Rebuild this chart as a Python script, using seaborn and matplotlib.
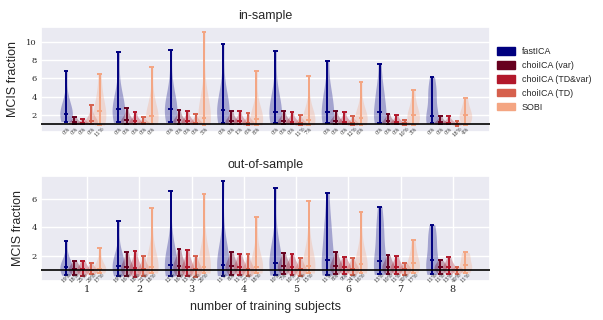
import matplotlib
matplotlib.use('Agg')
import matplotlib.pyplot as plt
import matplotlib.patches as mpatches
import pandas as pd
import seaborn as sns

methods = ['fastICA', 'choiICA (var)', 'choiICA (TD&var)', 'choiICA (TD)', 'SOBI']
colors = ['#00007f', '#67001f', '#b2182b', '#d6604d', '#f4a582']
n_subjects = [1, 2, 3, 4, 5, 6, 7, 8]

# in-sample MCIS fractions (min .. median .. max)
ins_fastica = [
    [1.28, 1.55, 1.80, 2.00, 2.15, 2.45, 2.90, 3.80, 6.84],
    [1.20, 1.60, 1.95, 2.30, 2.63, 3.00, 3.60, 4.90, 8.90],
    [1.20, 1.60, 2.00, 2.40, 2.70, 3.10, 3.80, 5.20, 9.06],
    [1.10, 1.50, 1.90, 2.20, 2.56, 3.00, 3.70, 5.30, 9.70],
    [1.15, 1.50, 1.80, 2.10, 2.35, 2.90, 3.80, 5.00, 8.95],
    [1.10, 1.40, 1.70, 2.00, 2.37, 3.60, 4.30, 4.80, 7.90],
    [1.10, 1.40, 1.70, 2.00, 2.35, 3.80, 4.40, 5.00, 7.60],
    [1.10, 1.30, 1.50, 1.70, 1.94, 3.80, 4.40, 4.90, 6.15],
]
ins_var = [
    [1.00, 1.05, 1.10, 1.15, 1.22, 1.30, 1.40, 1.55, 1.76],
    [1.00, 1.10, 1.20, 1.30, 1.40, 1.55, 1.75, 2.10, 2.74],
    [1.00, 1.10, 1.20, 1.30, 1.40, 1.50, 1.70, 2.00, 2.56],
    [1.00, 1.10, 1.18, 1.27, 1.35, 1.50, 1.70, 2.00, 2.45],
    [1.00, 1.08, 1.17, 1.25, 1.35, 1.50, 1.65, 1.95, 2.45],
    [1.00, 1.08, 1.15, 1.25, 1.35, 1.45, 1.60, 1.90, 2.45],
    [1.00, 1.05, 1.12, 1.20, 1.30, 1.40, 1.55, 1.80, 2.15],
    [1.00, 1.05, 1.10, 1.15, 1.20, 1.30, 1.40, 1.60, 1.87],
]
ins_tdvar = [
    [1.00, 1.03, 1.07, 1.10, 1.15, 1.20, 1.30, 1.42, 1.60],
    [1.00, 1.07, 1.14, 1.20, 1.30, 1.40, 1.55, 1.85, 2.30],
    [1.00, 1.07, 1.15, 1.22, 1.30, 1.42, 1.60, 1.90, 2.45],
    [0.98, 1.05, 1.12, 1.20, 1.30, 1.42, 1.60, 1.90, 2.45],
    [1.00, 1.06, 1.12, 1.20, 1.28, 1.40, 1.55, 1.85, 2.30],
    [1.00, 1.06, 1.12, 1.20, 1.28, 1.40, 1.55, 1.85, 2.30],
    [1.00, 1.05, 1.10, 1.16, 1.22, 1.32, 1.45, 1.65, 2.00],
    [1.00, 1.04, 1.08, 1.13, 1.18, 1.27, 1.38, 1.55, 1.87],
]
ins_td = [
    [1.00, 1.05, 1.12, 1.20, 1.30, 1.45, 1.70, 2.20, 3.10],
    [1.00, 1.03, 1.07, 1.10, 1.15, 1.22, 1.32, 1.48, 1.76],
    [1.00, 1.04, 1.08, 1.12, 1.18, 1.28, 1.42, 1.65, 2.10],
    [0.90, 1.00, 1.05, 1.10, 1.15, 1.25, 1.40, 1.70, 2.20],
    [0.88, 0.98, 1.03, 1.08, 1.12, 1.20, 1.35, 1.60, 2.00],
    [0.88, 0.97, 1.02, 1.06, 1.10, 1.18, 1.30, 1.50, 1.87],
    [0.90, 0.98, 1.02, 1.05, 1.08, 1.13, 1.20, 1.32, 1.50],
    [0.85, 0.95, 1.00, 1.03, 1.05, 1.08, 1.12, 1.20, 1.33],
]
ins_sobi = [
    [0.90, 1.10, 1.50, 1.90, 2.40, 2.90, 3.50, 4.60, 6.50],
    [1.00, 1.20, 1.40, 1.60, 1.85, 2.20, 2.80, 4.00, 7.20],
    [0.95, 1.15, 1.35, 1.50, 1.72, 2.00, 2.60, 4.20, 11.10],
    [0.92, 1.10, 1.30, 1.45, 1.60, 1.85, 2.30, 3.30, 6.80],
    [0.93, 1.10, 1.25, 1.38, 1.50, 1.75, 2.20, 3.20, 6.20],
    [0.93, 1.15, 1.35, 1.50, 1.70, 1.95, 2.40, 3.30, 5.60],
    [0.95, 1.25, 1.50, 1.75, 2.00, 2.30, 2.80, 3.50, 4.70],
    [0.95, 1.30, 1.55, 1.80, 2.00, 2.25, 2.60, 3.10, 3.80],
]

# out-of-sample MCIS fractions
oos_fastica = [
    [0.64, 0.85, 1.00, 1.10, 1.22, 1.35, 1.55, 1.90, 3.06],
    [0.60, 0.85, 1.00, 1.15, 1.30, 1.50, 1.75, 2.30, 4.48],
    [0.60, 0.90, 1.05, 1.20, 1.35, 1.60, 2.00, 3.00, 6.55],
    [0.62, 0.90, 1.05, 1.20, 1.35, 1.60, 2.00, 3.10, 7.22],
    [0.65, 0.95, 1.10, 1.30, 1.50, 1.80, 2.30, 3.30, 6.76],
    [0.65, 0.95, 1.15, 1.40, 1.68, 3.00, 3.80, 4.30, 6.39],
    [0.70, 1.00, 1.20, 1.40, 1.66, 3.00, 3.70, 4.20, 5.45],
    [0.70, 1.00, 1.20, 1.40, 1.68, 2.60, 3.10, 3.50, 4.18],
]
oos_var = [
    [0.65, 0.85, 0.95, 1.03, 1.10, 1.18, 1.28, 1.42, 1.66],
    [0.60, 0.85, 0.98, 1.10, 1.20, 1.32, 1.50, 1.80, 2.27],
    [0.62, 0.90, 1.05, 1.18, 1.30, 1.45, 1.65, 1.95, 2.50],
    [0.68, 0.95, 1.08, 1.20, 1.30, 1.42, 1.60, 1.85, 2.29],
    [0.70, 0.97, 1.10, 1.20, 1.30, 1.42, 1.58, 1.82, 2.22],
    [0.70, 0.97, 1.10, 1.20, 1.30, 1.42, 1.58, 1.82, 2.24],
    [0.70, 0.95, 1.07, 1.16, 1.25, 1.36, 1.50, 1.72, 2.06],
    [0.72, 0.93, 1.03, 1.12, 1.20, 1.28, 1.38, 1.50, 1.68],
]
oos_tdvar = [
    [0.60, 0.80, 0.90, 0.98, 1.05, 1.14, 1.25, 1.40, 1.66],
    [0.55, 0.80, 0.95, 1.05, 1.15, 1.28, 1.45, 1.75, 2.31],
    [0.60, 0.85, 1.00, 1.10, 1.20, 1.33, 1.52, 1.85, 2.43],
    [0.65, 0.90, 1.03, 1.15, 1.25, 1.36, 1.52, 1.75, 2.15],
    [0.68, 0.92, 1.05, 1.15, 1.25, 1.36, 1.50, 1.72, 2.13],
    [0.70, 0.93, 1.05, 1.15, 1.25, 1.34, 1.45, 1.62, 1.94],
    [0.70, 0.92, 1.03, 1.12, 1.20, 1.30, 1.42, 1.60, 1.96],
    [0.72, 0.92, 1.03, 1.12, 1.20, 1.30, 1.42, 1.60, 1.90],
]
oos_td = [
    [0.70, 0.82, 0.90, 0.96, 1.00, 1.05, 1.12, 1.25, 1.47],
    [0.60, 0.80, 0.90, 0.98, 1.05, 1.14, 1.28, 1.50, 1.96],
    [0.55, 0.78, 0.88, 0.97, 1.05, 1.15, 1.30, 1.55, 2.00],
    [0.60, 0.80, 0.90, 0.98, 1.05, 1.15, 1.30, 1.58, 2.15],
    [0.60, 0.80, 0.90, 0.98, 1.05, 1.14, 1.28, 1.48, 1.85],
    [0.65, 0.85, 0.95, 1.03, 1.10, 1.18, 1.30, 1.50, 1.85],
    [0.65, 0.83, 0.92, 0.99, 1.05, 1.12, 1.20, 1.32, 1.52],
    [0.70, 0.82, 0.90, 0.96, 1.00, 1.04, 1.08, 1.14, 1.22],
]
oos_sobi = [
    [0.80, 0.92, 1.00, 1.05, 1.10, 1.20, 1.40, 1.80, 2.55],
    [0.80, 0.95, 1.05, 1.12, 1.20, 1.40, 1.80, 2.80, 5.38],
    [0.80, 0.95, 1.05, 1.12, 1.20, 1.40, 1.85, 3.00, 6.32],
    [0.80, 0.95, 1.05, 1.15, 1.25, 1.45, 1.85, 2.80, 4.73],
    [0.80, 0.97, 1.08, 1.18, 1.30, 1.50, 1.90, 3.00, 5.87],
    [0.80, 1.00, 1.12, 1.25, 1.40, 1.60, 2.00, 2.90, 5.10],
    [0.80, 1.00, 1.15, 1.30, 1.50, 1.70, 2.00, 2.50, 3.13],
    [0.80, 1.00, 1.15, 1.25, 1.35, 1.60, 1.90, 2.10, 2.24],
]

# share of subjects below 1, as printed under each violin
ins_pct = [
    ['0%'] * 8,
    ['0%'] * 8,
    ['0%', '0%', '0%', '1%', '0%', '0%', '0%', '0%'],
    ['0%', '0%', '0%', '6%', '11%', '12%', '10%', '18%'],
    ['11%', '0%', '5%', '8%', '7%', '6%', '3%', '4%'],
]
oos_pct = [
    ['19%', '19%', '12%', '11%', '10%', '11%', '13%', '11%'],
    ['18%', '16%', '16%', '8%', '7%', '8%', '10%', '11%'],
    ['25%', '18%', '13%', '11%', '10%', '9%', '11%', '13%'],
    ['29%', '22%', '34%', '27%', '27%', '24%', '30%', '40%'],
    ['17%', '18%', '20%', '18%', '15%', '16%', '17%', '11%'],
]


def build(panel):
    rows = []
    for k, per_group in enumerate(panel):
        for g, vals in zip(n_subjects, per_group):
            pos = round(g - 0.4 + 0.16 * k, 3)
            for v in vals:
                rows.append((methods[k], g, pos, v))
    return pd.DataFrame(rows, columns=['method', 'subjects', 'pos', 'mcis'])


def draw_panel(ax, df, pct, title):
    sns.violinplot(data=df, x='pos', y='mcis', hue='method', hue_order=methods,
                   palette=colors, native_scale=True, dodge=False, cut=0,
                   inner=None, density_norm='width', width=1.5, linewidth=0,
                   saturation=1, alpha=0.3, legend=False, ax=ax)
    stats = df.groupby(['method', 'pos'])['mcis'].agg(['min', 'median', 'max']).reset_index()
    for _, r in stats.iterrows():
        c = colors[methods.index(r['method'])]
        ax.vlines(r['pos'], r['min'], r['max'], color=c, lw=1.4, zorder=4)
        ax.hlines([r['min'], r['median'], r['max']], r['pos'] - 0.045, r['pos'] + 0.045,
                  color=c, lw=1.4, zorder=4)
    ax.axhline(1, color='black', lw=1.2, zorder=5)
    for k in range(len(methods)):
        for g, lab in zip(n_subjects, pct[k]):
            ax.annotate(lab, (g - 0.4 + 0.16 * k, 1), xytext=(0, -1.5),
                        textcoords='offset points', ha='center', va='top',
                        rotation=45, fontsize=3.8, color='#333333',
                        family='DejaVu Serif', zorder=6)
    ax.set_title(title, fontsize=9, pad=6)
    ax.set_ylabel('MCIS fraction', fontsize=9, labelpad=5)
    ax.set_xlim(0.12, 8.71)
    ax.tick_params(axis='both', length=0, pad=3)


sns.set_theme(style='darkgrid')
plt.rcParams['font.family'] = ['Liberation Sans', 'DejaVu Sans']

fig, (ax1, ax2) = plt.subplots(2, 1, figsize=(6.03, 3.2), dpi=100)
fig.subplots_adjust(left=0.068, right=0.8126, top=0.9156, bottom=0.122, hspace=0.42)

draw_panel(ax1, build([ins_fastica, ins_var, ins_tdvar, ins_td, ins_sobi]), ins_pct, 'in-sample')
ax1.set_ylim(0.15, 11.6)
ax1.set_yticks([2, 4, 6, 8, 10])
ax1.set_yticklabels(['2', '4', '6', '8', '10'], family='DejaVu Serif', fontsize=6)
ax1.set_xticks([])
ax1.set_xlabel('')

draw_panel(ax2, build([oos_fastica, oos_var, oos_tdvar, oos_td, oos_sobi]), oos_pct, 'out-of-sample')
ax2.set_ylim(0.24, 7.6)
ax2.set_yticks([2, 4, 6])
ax2.set_yticklabels(['2', '4', '6'], family='DejaVu Serif', fontsize=6)
ax2.set_xticks(n_subjects)
ax2.set_xticklabels([str(g) for g in n_subjects], family='DejaVu Serif', fontsize=7)
ax2.tick_params(axis='x', pad=3)
ax2.set_xlabel('number of training subjects', fontsize=9, labelpad=5)

handles = [mpatches.Patch(color=c, label=m) for m, c in zip(methods, colors)]
ax1.legend(handles=handles, loc='center left', bbox_to_anchor=(1.0, 0.5),
           frameon=False, fontsize=6.4, handlelength=2.0, handleheight=0.9,
           labelspacing=0.55, borderaxespad=0.4)

fig.savefig('out.png', dpi=100)
